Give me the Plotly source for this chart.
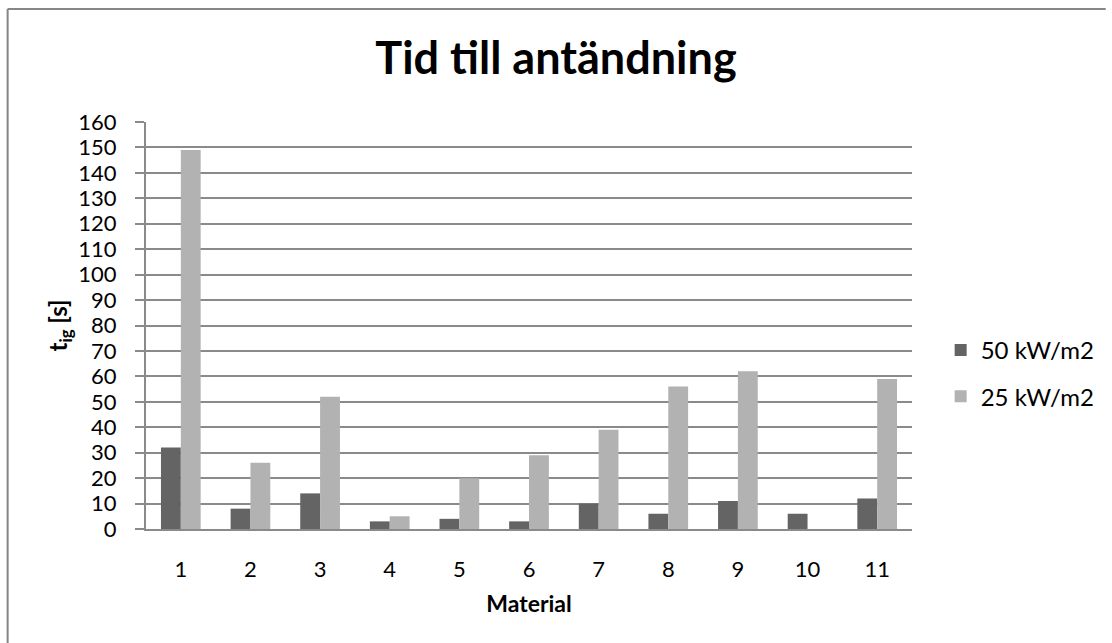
import plotly.graph_objects as go

materials = ["1", "2", "3", "4", "5", "6", "7", "8", "9", "10", "11"]
ign_50 = [32, 8, 14, 3, 4, 3, 10, 6, 11, 6, 12]
ign_25 = [149, 26, 52, 5, 20, 29, 39, 56, 62, 0, 59]
y_ticks = list(range(0, 161, 10))

FONT = "Lato, 'Open Sans', sans-serif"
GRID = "#8a8a8a"

# plot area in pixels: x 146..921, y 122..529
L, R, T, B = 146, 191, 122, 114
W, H = 1112, 643
pw, ph = W - L - R, H - T - B


def px_x(v):
    return (v - L) / pw


def px_y(v):
    return (H - B - v) / ph


fig = go.Figure()
fig.add_trace(go.Bar(x=materials, y=ign_50, name="50 kW/m2", legendgroup="a",
                     marker=dict(color="#646464", line=dict(width=0))))
fig.add_trace(go.Bar(x=materials, y=ign_25, name="25 kW/m2", legendgroup="b",
                     marker=dict(color="#b2b2b2", line=dict(width=0))))

fig.update_layout(
    width=W, height=H,
    margin=dict(l=L, r=R, t=T, b=B),
    paper_bgcolor="white", plot_bgcolor="white",
    barmode="group", bargap=0.43, bargroupgap=0,
    font=dict(family=FONT, size=22, color="black"),
    title=dict(text="<b>Tid till antändning</b>", x=0.5, xanchor="center",
               yref="container", y=1 - 58 / H, yanchor="middle",
               font=dict(family=FONT, size=45, color="black")),
    xaxis=dict(type="category", showline=True, linecolor=GRID, linewidth=2,
               ticks="", showgrid=False, ticklabelstandoff=20,
               tickfont=dict(size=22),
               title=dict(text="<b>Material</b>", font=dict(size=23), standoff=14)),
    yaxis=dict(range=[0, 160], tickvals=y_ticks, showline=True,
               linecolor=GRID, linewidth=2,
               ticks="outside", ticklen=9, tickcolor=GRID, tickwidth=2,
               ticklabelstandoff=14, tickfont=dict(size=22),
               showgrid=True, gridcolor=GRID, gridwidth=2, zeroline=False,
               title=dict(text="<b>t<sub>ig</sub> [s]</b>", font=dict(size=24), standoff=4)),
    legend=dict(x=px_x(950), y=px_y(373.5), xanchor="left", yanchor="middle",
                font=dict(size=24), tracegroupgap=12, traceorder="grouped"),
    showlegend=True,
    shapes=[
        dict(type="line", xref="paper", yref="paper",
             x0=px_x(6), x1=px_x(6), y0=px_y(9), y1=px_y(H + 5),
             line=dict(color="#868686", width=2)),
        dict(type="line", xref="paper", yref="paper",
             x0=px_x(6), x1=px_x(W + 5), y0=px_y(9), y1=px_y(9),
             line=dict(color="#868686", width=2)),
    ],
)

fig.write_html("out.html")
